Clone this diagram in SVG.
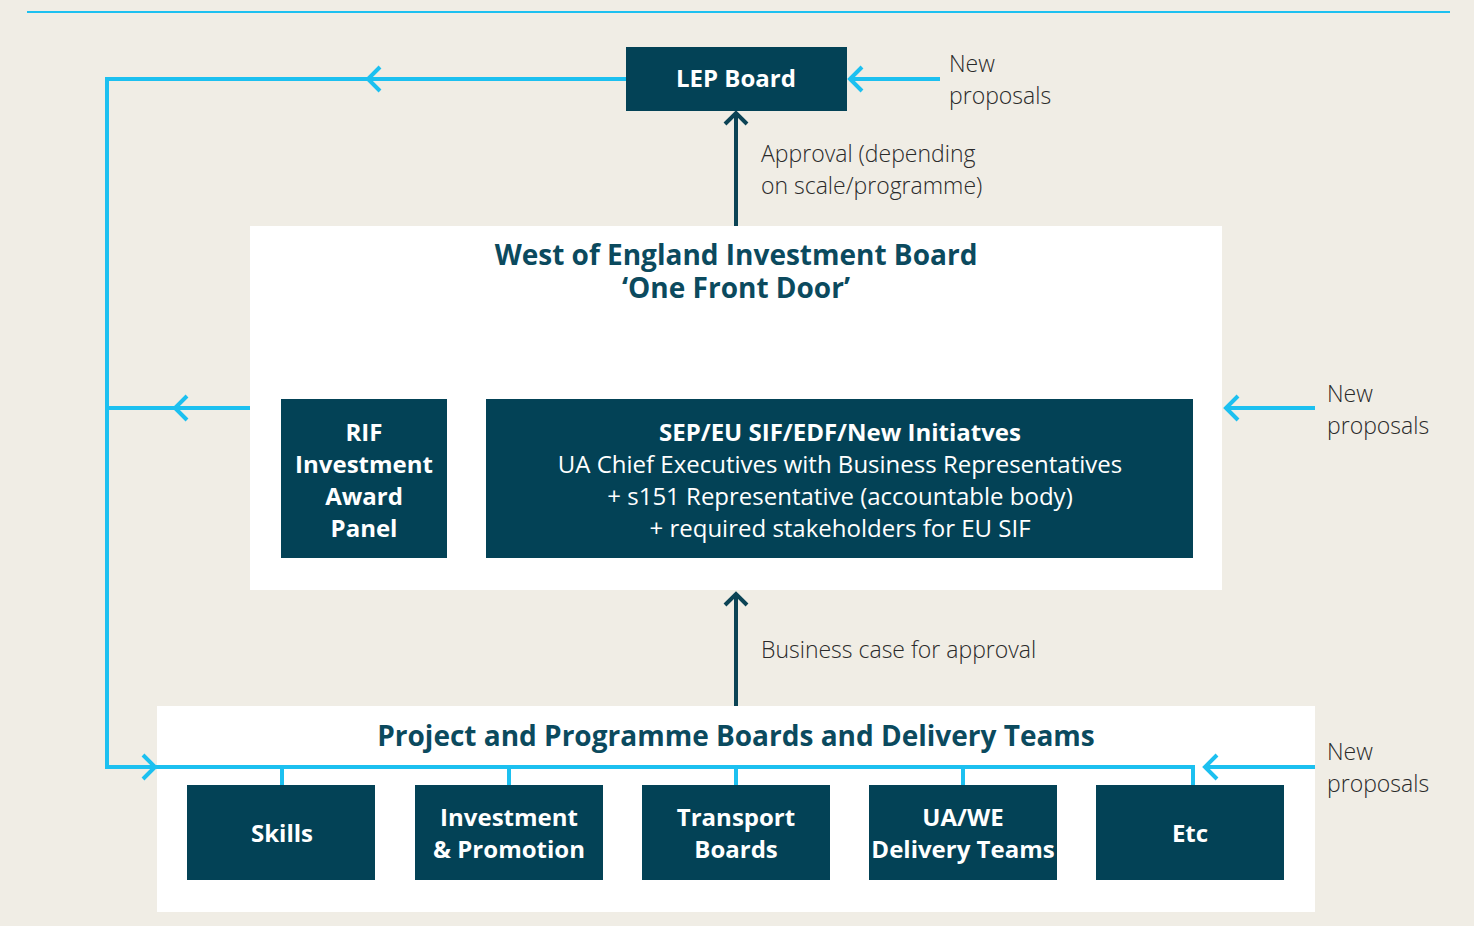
<svg xmlns="http://www.w3.org/2000/svg" width="1474" height="926" viewBox="0 0 1474 926">
<style>
.bg{fill:#f0ede5}
.panel{fill:#ffffff}
.box{fill:#034256}
.cy{fill:none;stroke:#1cc0f0;stroke-width:4}
.dk{fill:none;stroke:#0b4355;stroke-width:4}
.bt{font-family:"Open Sans","DejaVu Sans",sans-serif;font-weight:700;fill:#ffffff;font-size:24px;text-anchor:middle}
.wt{font-family:"Open Sans","DejaVu Sans",sans-serif;font-weight:400;fill:#ffffff;font-size:24px;text-anchor:middle}
.tt{font-family:"Open Sans","DejaVu Sans",sans-serif;font-weight:700;fill:#0b4a5e;font-size:28px;text-anchor:middle}
.lt{font-family:"Open Sans","DejaVu Sans",sans-serif;font-weight:300;fill:#2a2a2a;font-size:23px}
</style>
<rect class="bg" x="0" y="0" width="1474" height="926"/>
<line class="cy" x1="27" y1="12" x2="1450" y2="12" style="stroke-width:2"/>

<g id="panel-investment-board">
<rect class="panel" x="250" y="226" width="972" height="364"/>
<text class="tt" x="736" y="265">West of England Investment Board</text>
<text class="tt" x="736" y="298">‘One Front Door’</text>
</g>
<g id="panel-delivery">
<rect class="panel" x="157" y="706" width="1158" height="206"/>
<text class="tt" x="736" y="746">Project and Programme Boards and Delivery Teams</text>
</g>

<g id="connectors">
<polyline class="cy" points="626,79 107,79 107,767 153,767"/>
<polyline class="cy" points="380,67 368,79 380,91"/>
<line class="cy" x1="107" y1="408" x2="250" y2="408"/>
<polyline class="cy" points="187,396 175,408 187,420"/>
<polyline class="cy" points="143,755 155,767 143,779"/>
<polyline class="cy" points="155,767 1193,767 1193,785"/>
<line class="cy" x1="282" y1="767" x2="282" y2="785"/>
<line class="cy" x1="509" y1="767" x2="509" y2="785"/>
<line class="cy" x1="736" y1="767" x2="736" y2="785"/>
<line class="cy" x1="963" y1="767" x2="963" y2="785"/>
<line class="cy" x1="940" y1="79" x2="850" y2="79"/>
<polyline class="cy" points="862,67 850,79 862,91"/>
<line class="cy" x1="1315" y1="408" x2="1226" y2="408"/>
<polyline class="cy" points="1238,396 1226,408 1238,420"/>
<line class="cy" x1="1315" y1="767" x2="1205" y2="767"/>
<polyline class="cy" points="1217,755 1205,767 1217,779"/>
<line class="dk" x1="736" y1="226" x2="736" y2="113"/>
<polyline class="dk" points="725,124 736,113 747,124"/>
<line class="dk" x1="736" y1="706" x2="736" y2="594"/>
<polyline class="dk" points="725,605 736,594 747,605"/>
</g>

<g id="lep-board">
<rect class="box" x="626" y="47" width="221" height="64"/>
<text class="bt" x="736" y="87">LEP Board</text>
</g>
<g id="rif-panel">
<rect class="box" x="281" y="399" width="166" height="159"/>
<text class="bt" x="364" y="441">RIF</text>
<text class="bt" x="364" y="473">Investment</text>
<text class="bt" x="364" y="505">Award</text>
<text class="bt" x="364" y="537">Panel</text>
</g>
<g id="sep-box">
<rect class="box" x="486" y="399" width="707" height="159"/>
<text class="bt" x="840" y="441">SEP/EU SIF/EDF/New Initiatves</text>
<text class="wt" x="840" y="473">UA Chief Executives with Business Representatives</text>
<text class="wt" x="840" y="505">+ s151 Representative (accountable body)</text>
<text class="wt" x="840" y="537">+ required stakeholders for EU SIF</text>
</g>
<g id="skills">
<rect class="box" x="187" y="785" width="188" height="95"/>
<text class="bt" x="282" y="842">Skills</text>
</g>
<g id="investment-promotion">
<rect class="box" x="415" y="785" width="188" height="95"/>
<text class="bt" x="509" y="826">Investment</text>
<text class="bt" x="509" y="858">&amp; Promotion</text>
</g>
<g id="transport-boards">
<rect class="box" x="642" y="785" width="188" height="95"/>
<text class="bt" x="736" y="826">Transport</text>
<text class="bt" x="736" y="858">Boards</text>
</g>
<g id="ua-we">
<rect class="box" x="869" y="785" width="188" height="95"/>
<text class="bt" x="963" y="826">UA/WE</text>
<text class="bt" x="963" y="858">Delivery Teams</text>
</g>
<g id="etc">
<rect class="box" x="1096" y="785" width="188" height="95"/>
<text class="bt" x="1190" y="842">Etc</text>
</g>

<g id="labels">
<text class="lt" x="949" y="72">New</text>
<text class="lt" x="949" y="104">proposals</text>
<text class="lt" x="761" y="162">Approval (depending</text>
<text class="lt" x="761" y="194">on scale/programme)</text>
<text class="lt" x="1327" y="402">New</text>
<text class="lt" x="1327" y="434">proposals</text>
<text class="lt" x="761" y="658">Business case for approval</text>
<text class="lt" x="1327" y="760">New</text>
<text class="lt" x="1327" y="792">proposals</text>
</g>
</svg>
